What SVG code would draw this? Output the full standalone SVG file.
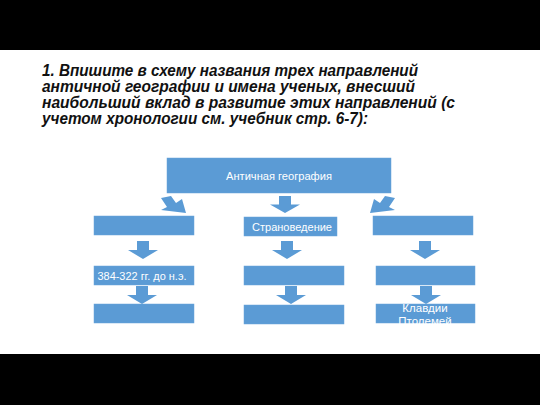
<svg xmlns="http://www.w3.org/2000/svg" width="540" height="405" viewBox="0 0 540 405">
  <defs>
    <style>
      .box { fill: #5b9bd5; stroke: #6aa5db; stroke-width: 0.5; }
      .arr { fill: #5b9bd5; }
      .lbl { font-family: "Liberation Sans", Arial, sans-serif; font-size: 11.5px; fill: #ffffff; text-anchor: middle; }
      .title { font-family: "Liberation Sans", Arial, sans-serif; font-size: 16px; font-weight: bold; font-style: italic; fill: #111111; }
    </style>
    <path id="down" d="M-6,0 H6 V9 H15 L0,18 L-15,9 H-6 Z"/>
  </defs>
  <rect x="0" y="0" width="540" height="405" fill="#ffffff"/>
  <rect x="0" y="0" width="540" height="50" fill="#000000"/>
  <rect x="0" y="354" width="540" height="51" fill="#000000"/>

  <g id="title">
    <text class="title" x="42" y="76" textLength="376" lengthAdjust="spacingAndGlyphs">1. Впишите в схему названия трех направлений</text>
    <text class="title" x="42" y="92" textLength="373" lengthAdjust="spacingAndGlyphs">античной географии и имена ученых, внесший</text>
    <text class="title" x="42" y="108" textLength="413" lengthAdjust="spacingAndGlyphs">наибольший вклад в развитие этих направлений (с</text>
    <text class="title" x="42" y="124" textLength="326" lengthAdjust="spacingAndGlyphs">учетом хронологии см. учебник стр. 6-7):</text>
  </g>

  <g id="connectors">
    <polygon class="arr" points="186,213 182,199 176,203 171,196 161,198 167,207 161,210"/>
    <use href="#down" class="arr" transform="translate(285,196) scale(1,0.95)"/>
    <polygon class="arr" points="370,213 374,199 380,203 385,196 395,198 389,207 395,210"/>
    <use href="#down" class="arr" transform="translate(143,241)"/>
    <use href="#down" class="arr" transform="translate(287,241)"/>
    <use href="#down" class="arr" transform="translate(425,241)"/>
    <use href="#down" class="arr" transform="translate(142,286)"/>
    <use href="#down" class="arr" transform="translate(291,286)"/>
    <use href="#down" class="arr" transform="translate(426,286)"/>
  </g>

  <g id="n-root">
    <rect class="box" x="167" y="158" width="224" height="35"/>
    <text class="lbl" x="279" y="180" textLength="106" lengthAdjust="spacingAndGlyphs">Античная география</text>
  </g>
  <g id="n-left1">
    <rect class="box" x="94" y="216" width="100" height="19"/>
  </g>
  <g id="n-mid1">
    <rect class="box" x="244" y="217" width="93" height="19"/>
    <text class="lbl" x="292" y="230.5" textLength="80" lengthAdjust="spacingAndGlyphs">Страноведение</text>
  </g>
  <g id="n-right1">
    <rect class="box" x="373" y="216" width="100" height="19"/>
  </g>
  <g id="n-left2">
    <rect class="box" x="94" y="266" width="100" height="19"/>
    <text class="lbl" x="142" y="280" textLength="89" lengthAdjust="spacingAndGlyphs">384-322 гг. до н.э.</text>
  </g>
  <g id="n-mid2">
    <rect class="box" x="244" y="266" width="100" height="19"/>
  </g>
  <g id="n-right2">
    <rect class="box" x="376" y="266" width="99" height="19"/>
  </g>
  <g id="n-left3">
    <rect class="box" x="94" y="304" width="100" height="19"/>
  </g>
  <g id="n-mid3">
    <rect class="box" x="244" y="305" width="100" height="19"/>
  </g>
  <g id="n-right3">
    <rect class="box" x="376" y="304" width="99" height="19"/>
    <text class="lbl" x="425" y="312">Клавдии</text>
    <text class="lbl" x="425" y="325">Птолемей</text>
  </g>
</svg>
